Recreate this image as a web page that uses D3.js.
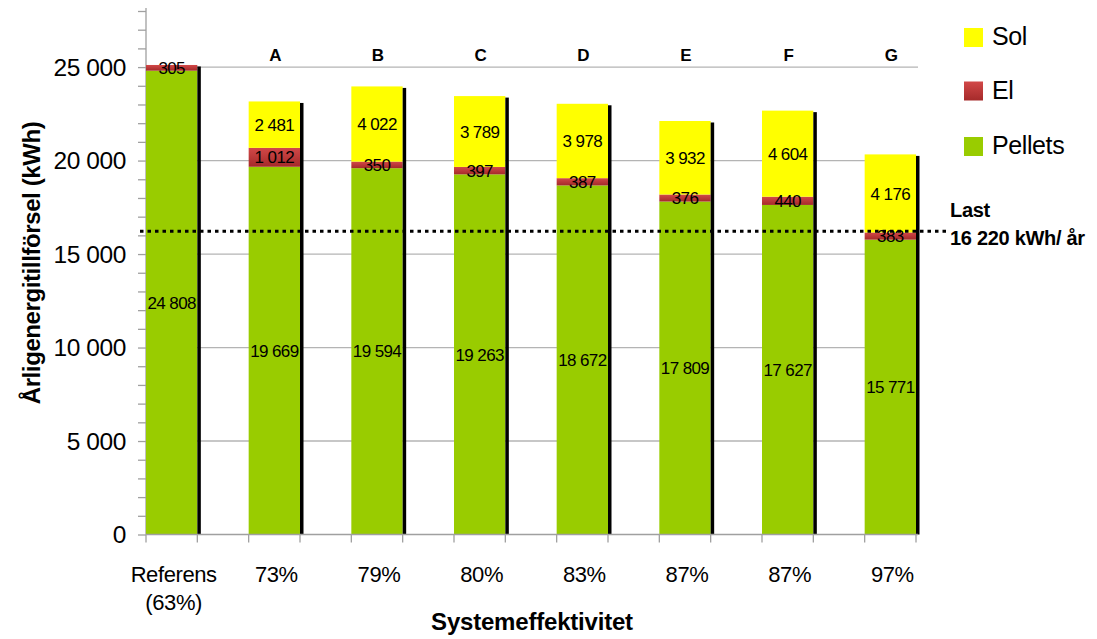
<!DOCTYPE html>
<html>
<head>
<meta charset="utf-8">
<script src="https://cdn.jsdelivr.net/npm/d3@7"></script>
<style>
  html, body { margin: 0; padding: 0; background: #fff; }
  svg { display: block; font-family: "Liberation Sans", Arial, sans-serif; }
</style>
</head>
<body>
<svg id="chart" width="1097" height="639"></svg>
<script>
// Annual energy supply per system (kWh), stacked by source
const categories = ["Referens", "73%", "79%", "80%", "83%", "87%", "87% ", "97%"];
const categoryLines = [["Referens", "(63%)"], ["73%"], ["79%"], ["80%"], ["83%"], ["87%"], ["87%"], ["97%"]];
const systemLetters = ["", "A", "B", "C", "D", "E", "F", "G"];
const pellets = [24808, 19669, 19594, 19263, 18672, 17809, 17627, 15771];
const el = [305, 1012, 350, 397, 387, 376, 440, 383];
const sol = [0, 2481, 4022, 3789, 3978, 3932, 4604, 4176];
const loadValue = 16220;
const yTicksMajor = [0, 5000, 10000, 15000, 20000, 25000];

const seriesNames = ["Pellets", "El", "Sol"];
const seriesColors = { Pellets: "#99cc00", El: "url(#elGrad)", Sol: "#ffff00" };

const fmt = v => d3.format(",")(v).replace(/,/g, " ");

const svg = d3.select("#chart");
const defs = svg.append("defs");
const grad = defs.append("linearGradient").attr("id", "elGrad")
  .attr("x1", 0).attr("y1", 0).attr("x2", 0).attr("y2", 1);
grad.append("stop").attr("offset", "0%").attr("stop-color", "#d24848");
grad.append("stop").attr("offset", "100%").attr("stop-color", "#a52a2a");

const rows = categories.map((c, i) => ({ cat: c, Pellets: pellets[i], El: el[i], Sol: sol[i] }));
const stacked = d3.stack().keys(seriesNames)(rows);

const x = d3.scaleBand().domain(categories).range([146, 916]).paddingInner(0.5).paddingOuter(0).align(0);
const y = d3.scaleLinear().domain([0, 28000]).range([534.5, 11]);
const plotRight = 918;
const shadowW = 3.5;

// horizontal gridlines at major ticks
svg.append("g").selectAll("line").data(yTicksMajor.filter(d => d > 0)).join("line")
  .attr("x1", 146).attr("x2", plotRight)
  .attr("y1", d => y(d)).attr("y2", d => y(d))
  .attr("stroke", "#b4b4b4").attr("stroke-width", 1.3);

// y axis with a tick every 1000
const yAxis = d3.axisLeft(y).tickValues(d3.range(0, 28001, 1000)).tickSize(8).tickFormat("");
const gy = svg.append("g").attr("transform", "translate(146,0)").call(yAxis);
gy.select(".domain").attr("stroke", "#a0a0a0").attr("stroke-width", 1.3).attr("d", `M-0,${y(0)}V8`);
gy.selectAll(".tick line").attr("stroke", "#a0a0a0").attr("stroke-width", 1.3);

svg.append("g").selectAll("text").data(yTicksMajor).join("text")
  .attr("x", 126).attr("y", d => y(d)).attr("dy", "0.36em")
  .attr("text-anchor", "end").attr("font-size", 24.5).attr("letter-spacing", "-0.4")
  .attr("fill", "#000").text(d => fmt(d));

// stacked bars
const layers = svg.append("g").selectAll("g").data(stacked).join("g")
  .attr("fill", d => seriesColors[d.key]);
layers.selectAll("rect").data(d => d.filter(p => p[1] - p[0] > 0)).join("rect")
  .attr("x", d => x(d.data.cat)).attr("width", x.bandwidth())
  .attr("y", d => y(d[1])).attr("height", d => y(d[0]) - y(d[1]));

// dark right-side edge of each column
svg.append("g").selectAll("rect").data(rows).join("rect")
  .attr("x", d => x(d.cat) + x.bandwidth()).attr("width", shadowW)
  .attr("y", d => y(d.Pellets + d.El + d.Sol) + 1.5)
  .attr("height", d => y(0) - y(d.Pellets + d.El + d.Sol) - 1.5)
  .attr("fill", "#000");

// x axis baseline and edge ticks
svg.append("line").attr("x1", 146).attr("x2", plotRight).attr("y1", y(0)).attr("y2", y(0))
  .attr("stroke", "#a0a0a0").attr("stroke-width", 1.3);
const edgeTicks = [];
categories.forEach(c => { edgeTicks.push(x(c)); edgeTicks.push(x(c) + x.bandwidth()); });
svg.append("g").selectAll("line").data(edgeTicks).join("line")
  .attr("x1", d => d).attr("x2", d => d).attr("y1", y(0)).attr("y2", y(0) + 8)
  .attr("stroke", "#a0a0a0").attr("stroke-width", 1.3);

// load line
svg.append("line").attr("x1", 140).attr("x2", 946)
  .attr("y1", y(loadValue)).attr("y2", y(loadValue))
  .attr("stroke", "#000").attr("stroke-width", 3).attr("stroke-dasharray", "3.5,4");

// value labels centred in each segment
const labelG = svg.append("g").attr("font-size", 17).attr("letter-spacing", "-0.6")
  .attr("text-anchor", "middle").attr("fill", "#000");
stacked.forEach(layer => {
  labelG.selectAll(null).data(layer.filter(p => p[1] - p[0] > 0)).join("text")
    .attr("x", d => x(d.data.cat) + x.bandwidth() / 2)
    .attr("y", d => y((d[0] + d[1]) / 2)).attr("dy", "0.36em")
    .text(d => fmt(d[1] - d[0]));
});

// system letters above columns
svg.append("g").selectAll("text").data(categories).join("text")
  .attr("x", d => x(d) + x.bandwidth() / 2 + 1).attr("y", 61)
  .attr("text-anchor", "middle").attr("font-size", 17).attr("font-weight", "bold")
  .text((d, i) => systemLetters[i]);

// category labels
const catG = svg.append("g").attr("font-size", 22).attr("letter-spacing", "-0.4")
  .attr("text-anchor", "middle").attr("fill", "#000");
categories.forEach((c, i) => {
  categoryLines[i].forEach((line, j) => {
    catG.append("text").attr("x", x(c) + x.bandwidth() / 2 + 2).attr("y", 582 + j * 28).text(line);
  });
});

// axis titles
svg.append("text").attr("transform", "translate(40,263) rotate(-90)")
  .attr("text-anchor", "middle").attr("font-size", 24).attr("font-weight", "bold")
  .attr("letter-spacing", "-0.4").text("Årligenergitillförsel (kWh)");
svg.append("text").attr("x", 532).attr("y", 630)
  .attr("text-anchor", "middle").attr("font-size", 24).attr("font-weight", "bold")
  .attr("letter-spacing", "-0.2").text("Systemeffektivitet");

// load annotation
svg.append("text").attr("x", 950).attr("y", 217).attr("font-size", 20).attr("font-weight", "bold")
  .attr("letter-spacing", "-0.3").text("Last");
svg.append("text").attr("x", 950).attr("y", 245).attr("font-size", 20).attr("font-weight", "bold")
  .attr("letter-spacing", "-0.3").text(fmt(loadValue) + " kWh/ år");

// legend
const legendItems = ["Sol", "El", "Pellets"];
const legend = svg.append("g").selectAll("g").data(legendItems).join("g")
  .attr("transform", (d, i) => `translate(964,${[28, 81.5, 137][i]})`);
legend.append("rect").attr("width", 19).attr("height", 19).attr("fill", d => seriesColors[d]);
legend.append("text").attr("x", 28).attr("y", 17).attr("font-size", 25)
  .attr("letter-spacing", "-0.4").attr("fill", "#000").text(d => d);
</script>
</body>
</html>
